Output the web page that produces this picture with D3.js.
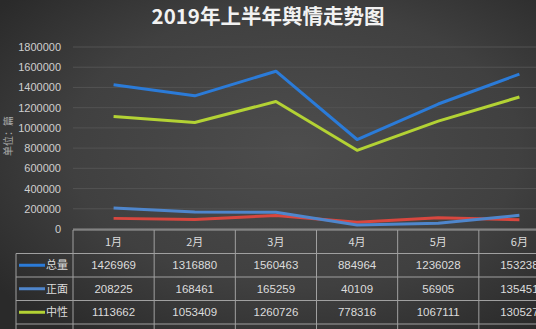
<!DOCTYPE html>
<html><head><meta charset="utf-8">
<script src="https://cdn.jsdelivr.net/npm/d3@7/dist/d3.min.js"></script>
<style>html,body{margin:0;padding:0;background:#333;overflow:hidden}</style>
</head><body><svg id="c" width="536" height="329"></svg>
<script>
const months = ["1月","2月","3月","4月","5月","6月"];
const seriesNames = ["总量","正面","中性","负面"];
const total    = [1426969,1316880,1560463,884964,1236028,1532380];
const positive = [208225,168461,165259,40109,56905,135451];
const neutral  = [1113662,1053409,1260726,778316,1067111,1305270];
const negative = [105082,95010,134478,66539,112012,91659];
const tableLabels = ["1426969","1316880","1560463","884964","1236028","153238"];
const tableLabels2 = ["208225","168461","165259","40109","56905","135451"];
const tableLabels3 = ["1113662","1053409","1260726","778316","1067111","130527"];
const yTicks = [0,200000,400000,600000,800000,1000000,1200000,1400000,1600000,1800000];
const colors = ["#2b7bd8","#4f86cc","#b3d234","#d8473f"];

const svg = d3.select("#c");
const defs = svg.append("defs");
const g = defs.append("radialGradient").attr("id","bg").attr("cx","55%").attr("cy","45%").attr("r","70%");
g.append("stop").attr("offset","0%").attr("stop-color","#4d4d4d");
g.append("stop").attr("offset","60%").attr("stop-color","#404040");
g.append("stop").attr("offset","100%").attr("stop-color","#2a2a2a");
svg.append("rect").attr("width",536).attr("height",329).attr("fill","url(#bg)");

svg.append("text").attr("x",268).attr("y",24).attr("text-anchor","middle")
  .attr("font-family","'Noto Sans CJK SC',sans-serif").attr("font-weight","bold")
  .attr("font-size",20.5).attr("fill","#f2f2f2").text("2019年上半年舆情走势图");

const x = d3.scaleBand().domain(months).range([73,560]);
const y = d3.scaleLinear().domain([0,1800000]).range([229,47]);

svg.append("g").selectAll("line").data(yTicks).join("line")
  .attr("x1",73).attr("x2",536).attr("y1",d=>y(d)).attr("y2",d=>y(d))
  .attr("stroke",d=>d===0?"#8a8a8a":"#525252").attr("stroke-width",1);

const yAxis = d3.axisLeft(y).tickValues(yTicks).tickSize(0).tickPadding(0).tickFormat(d3.format("d"));
const ya = svg.append("g").attr("transform","translate(61,0)").call(yAxis);
ya.select(".domain").remove();
ya.selectAll("text").attr("fill","#cfcfcf").attr("font-size",11)
  .attr("font-family","'Liberation Sans',sans-serif");

svg.append("text").attr("transform","translate(12,136) rotate(-90)").attr("text-anchor","middle")
  .attr("font-family","'Noto Sans CJK SC',sans-serif").attr("font-size",10).attr("fill","#aaa").text("单位：篇");

const all = [total,positive,neutral,negative];
const line = d3.line().x((d,i)=>x(months[i])+x.bandwidth()/2).y(d=>y(d));
[3,1,2,0].forEach(k=>{
  svg.append("path").datum(all[k]).attr("d",line).attr("fill","none")
    .attr("stroke",colors[k]).attr("stroke-width",3).attr("stroke-linejoin","round");
});

const rowH = 23.5, tTop = 230;
const tg = svg.append("g");
const lc = "#a0a0a0";
for (let r=0;r<=4;r++){
  const yy = tTop + r*rowH;
  tg.append("line").attr("x1",r===0?73:16).attr("x2",536).attr("y1",yy).attr("y2",yy).attr("stroke",lc);
}
months.forEach(m=>{
  tg.append("line").attr("x1",x(m)).attr("x2",x(m)).attr("y1",tTop).attr("y2",329).attr("stroke",lc);
});
tg.append("line").attr("x1",16).attr("x2",16).attr("y1",tTop+rowH).attr("y2",329).attr("stroke",lc);

const ff = "'Liberation Sans',sans-serif";
tg.selectAll("text.h").data(months).join("text").attr("class","h")
  .attr("x",d=>x(d)+x.bandwidth()/2).attr("y",tTop+rowH/2+4).attr("text-anchor","middle")
  .attr("font-family","'Noto Sans CJK SC',sans-serif").attr("font-size",11).attr("fill","#dcdcdc").text(d=>d);

const rows = [tableLabels,tableLabels2,tableLabels3];
rows.forEach((vals,r)=>{
  const cy = tTop + (r+1)*rowH + rowH/2;
  tg.append("line").attr("x1",19).attr("x2",45).attr("y1",cy).attr("y2",cy)
    .attr("stroke",colors[r]).attr("stroke-width",3);
  tg.append("text").attr("x",46).attr("y",cy+4).attr("font-family","'Noto Sans CJK SC',sans-serif")
    .attr("font-size",11).attr("fill","#dcdcdc").text(seriesNames[r]);
  tg.selectAll(null).data(vals).join("text")
    .attr("x",(d,i)=>x(months[i])+x.bandwidth()/2).attr("y",cy+4).attr("text-anchor","middle")
    .attr("font-family",ff).attr("font-size",11.5).attr("fill","#dcdcdc").text(d=>d);
});
tg.append("line").attr("x1",19).attr("x2",45).attr("y1",tTop+4*rowH+rowH/2).attr("y2",tTop+4*rowH+rowH/2)
  .attr("stroke",colors[3]).attr("stroke-width",3);
</script></body></html>
